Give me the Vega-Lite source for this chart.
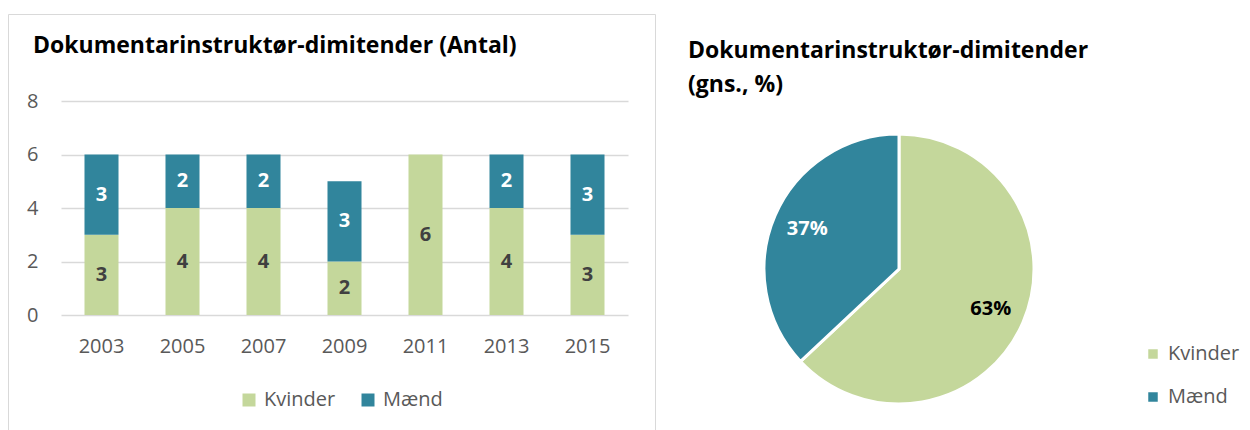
{
  "$schema": "https://vega.github.io/schema/vega-lite/v6.json",
  "background": "white",
  "padding": {"left": 7, "top": 13, "right": 0, "bottom": 0},
  "spacing": 32,
  "datasets": {
    "bars": [
      {"year": "2003", "g": "Kvinder", "n": 3}, {"year": "2003", "g": "Mænd", "n": 3},
      {"year": "2005", "g": "Kvinder", "n": 4}, {"year": "2005", "g": "Mænd", "n": 2},
      {"year": "2007", "g": "Kvinder", "n": 4}, {"year": "2007", "g": "Mænd", "n": 2},
      {"year": "2009", "g": "Kvinder", "n": 2}, {"year": "2009", "g": "Mænd", "n": 3},
      {"year": "2011", "g": "Kvinder", "n": 6}, {"year": "2011", "g": "Mænd", "n": 0},
      {"year": "2013", "g": "Kvinder", "n": 4}, {"year": "2013", "g": "Mænd", "n": 2},
      {"year": "2015", "g": "Kvinder", "n": 3}, {"year": "2015", "g": "Mænd", "n": 3}
    ],
    "pie": [
      {"g": "Kvinder", "pct": 0.63},
      {"g": "Mænd", "pct": 0.37}
    ],
    "empty": []
  },
  "resolve": {"scale": {"color": "independent"}, "legend": {"color": "independent"}},
  "hconcat": [
    {
      "width": 647,
      "height": 417,
      "view": {"stroke": "#D9D9D9", "strokeWidth": 1},
      "title": {"text": "Dokumentarinstruktør-dimitender (Antal)", "anchor": "start", "frame": "group", "offset": -44, "dx": 25, "fontSize": 23, "font": "Open Sans", "fontWeight": "bold", "color": "#000000"},
      "data": {"name": "bars"},
      "transform": [
        {"stack": "n", "groupby": ["year"], "sort": [{"field": "g", "order": "ascending"}], "as": ["y0", "y1"]}
      ],
      "layer": [
        {
          "mark": {"type": "bar"},
          "encoding": {
            "x": {"field": "year", "type": "nominal", "sort": null, "title": null,
              "scale": {"range": [53, 620], "paddingInner": 0.58, "paddingOuter": 0.29},
              "axis": {"orient": "bottom", "offset": -116, "domain": false, "ticks": false, "labelPadding": 21, "labelAngle": 0, "labelFont": "Open Sans", "labelFontSize": 20, "labelColor": "#595959", "grid": false}},
            "y": {"field": "y0", "type": "quantitative", "title": null,
              "scale": {"domain": [0, 8], "range": [301, 87], "nice": false, "zero": true},
              "axis": {"orient": "left", "offset": -53, "values": [0, 2, 4, 6, 8], "domain": false, "ticks": false, "labelPadding": 23, "labelFont": "Open Sans", "labelFontSize": 20, "labelColor": "#595959", "grid": true, "gridColor": "#D9D9D9", "gridWidth": 1.5}},
            "y2": {"field": "y1"},
            "color": {"field": "g", "type": "nominal", "title": null,
              "scale": {"domain": ["Kvinder", "Mænd"], "range": ["#C4D79B", "#31859C"]},
              "legend": {"orient": "none", "legendX": 231, "legendY": 376, "direction": "horizontal", "symbolType": "square", "symbolSize": 169, "symbolStrokeWidth": 0, "labelFont": "Open Sans", "labelFontSize": 20, "labelColor": "#595959", "columnPadding": 22, "labelOffset": 5, "padding": 0}}
          }
        },
        {
          "transform": [
            {"filter": "datum.n > 0"},
            {"fold": ["y0", "y1"], "as": ["k", "v"]},
            {"aggregate": [{"op": "mean", "field": "v", "as": "ym"}], "groupby": ["year", "g", "n"]}
          ],
          "mark": {"type": "text", "font": "Open Sans", "fontWeight": "bold", "fontSize": 20, "baseline": "middle", "align": "center"},
          "encoding": {
            "x": {"field": "year", "type": "nominal", "sort": null},
            "y": {"field": "ym", "type": "quantitative"},
            "text": {"field": "n", "type": "quantitative"},
            "color": {"condition": {"test": "datum.g === 'Mænd'", "value": "#FFFFFF"}, "value": "#404040"}
          }
        }
      ]
    },
    {
      "spacing": 25,
      "vconcat": [
        {
          "width": 270,
          "height": 1,
          "view": {"stroke": null},
          "data": {"name": "empty"},
          "mark": {"type": "point", "opacity": 0},
          "encoding": {}
        },
        {
          "width": 270,
          "height": 270,
          "view": {"stroke": null},
          "title": {"text": ["Dokumentarinstruktør-dimitender", "(gns., %)"], "lineHeight": 34, "anchor": "start", "frame": "group", "offset": 31, "dx": -76, "fontSize": 23, "font": "Open Sans", "fontWeight": "bold", "color": "#000000"},
          "data": {"name": "pie"},
          "layer": [
            {
              "mark": {"type": "arc", "stroke": "#FFFFFF", "strokeWidth": 3},
              "encoding": {
                "theta": {"field": "pct", "type": "quantitative", "stack": true},
                "order": {"field": "g", "sort": "ascending"},
                "color": {"field": "g", "type": "nominal", "title": null,
                  "scale": {"domain": ["Kvinder", "Mænd"], "range": ["#C4D79B", "#31859C"]},
                  "legend": {"orient": "none", "legendX": 379, "legendY": 330, "direction": "vertical", "symbolType": "square", "symbolSize": 90, "symbolStrokeWidth": 0, "labelFont": "Open Sans", "labelFontSize": 20, "labelColor": "#595959", "rowPadding": 23, "labelOffset": 5, "padding": 0}}
              }
            },
            {
              "mark": {"type": "text", "radius": 100, "font": "Open Sans", "fontWeight": "bold", "fontSize": 20, "baseline": "middle", "align": "center"},
              "encoding": {
                "theta": {"field": "pct", "type": "quantitative", "stack": true},
                "order": {"field": "g", "sort": "ascending"},
                "text": {"field": "pct", "type": "quantitative", "format": ".0%"},
                "color": {"condition": {"test": "datum.g === 'Mænd'", "value": "#FFFFFF"}, "value": "#000000"}
              }
            }
          ]
        }
      ]
    }
  ]
}
